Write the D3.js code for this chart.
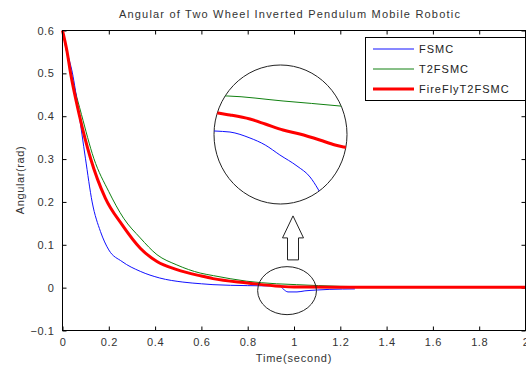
<!DOCTYPE html>
<html><head><meta charset="utf-8">
<script src="https://cdn.jsdelivr.net/npm/d3@7/dist/d3.min.js"></script>
<style>
body{margin:0;background:#fff;}
text{font-family:"Liberation Sans",Arial,sans-serif;}
</style></head><body>
<svg id="c" width="526" height="366"></svg>
<script>
const title = "Angular of Two Wheel Inverted Pendulum Mobile Robotic";
const xLabel = "Time(second)";
const yLabel = "Angular(rad)";
const seriesNames = ["FSMC", "T2FSMC", "FireFlyT2FSMC"];
const seriesColors = ["#1010ff", "#108010", "#ff0000"];
const seriesWidths = [1, 1, 3];
const xTicks = [0, 0.2, 0.4, 0.6, 0.8, 1, 1.2, 1.4, 1.6, 1.8, 2];
const yTicks = [-0.1, 0, 0.1, 0.2, 0.3, 0.4, 0.5, 0.6];

// FSMC
const tFSMC = [0, 0.02, 0.042, 0.07, 0.099, 0.128, 0.164, 0.2, 0.257, 0.336, 0.42, 0.52, 0.6, 0.65, 0.8, 0.9, 0.94, 0.953, 0.974, 1.013, 1.047, 1.1, 1.155, 1.263];
const vFSMC = [0.6, 0.55, 0.503, 0.41, 0.302, 0.2, 0.131, 0.088, 0.061, 0.038, 0.0225, 0.013, 0.009, 0.007, 0.0047, 0.004, 0.003, -0.003, -0.01, -0.01, -0.0075, -0.0055, -0.004, -0.003];
// T2FSMC
const tT2 = [0, 0.012, 0.024, 0.05, 0.082, 0.135, 0.2, 0.264, 0.336, 0.408, 0.494, 0.595, 0.652, 0.796, 0.925, 1.01, 1.2, 1.5, 2.0];
const vT2 = [0.6, 0.565, 0.535, 0.47, 0.404, 0.302, 0.224, 0.162, 0.116, 0.077, 0.053, 0.034, 0.028, 0.015, 0.009, 0.007, 0.003, 0.001, 0.0005];
// FireFlyT2FSMC
const tFF = [0, 0.02, 0.034, 0.073, 0.121, 0.185, 0.257, 0.336, 0.408, 0.494, 0.6, 0.65, 0.8, 0.94, 1.0, 1.2, 2.0];
const vFF = [0.6, 0.55, 0.503, 0.402, 0.302, 0.209, 0.147, 0.092, 0.061, 0.042, 0.027, 0.021, 0.011, 0.003, 0.0015, 0.001, 0.001];

// magnified inset (zoom of t≈0.9–1.1)
const insetTFSMC = [0.895, 0.9015, 0.924, 0.954, 0.977, 0.999, 1.0248, 1.0444, 1.0564, 1.06];
const insetFSMC = [-0.0005, -0.00055, -0.00068, -0.00145, -0.00236, -0.00365, -0.00508, -0.0065, -0.00806, -0.0086];
const insetTT2 = [0.915, 0.9196, 1.0038, 1.0895, 1.1];
const insetT2 = [0.0040, 0.00399, 0.00334, 0.00269, 0.0026];
const insetTFF = [0.9, 0.906, 0.924, 0.954, 0.977, 1.0038, 1.029, 1.059, 1.082, 1.0955, 1.1];
const insetFF = [0.0019, 0.00178, 0.00153, 0.0010, 0.00036, -0.00042, -0.00094, -0.00171, -0.00236, -0.00262, -0.0027];

const svg = d3.select("#c");
const x = d3.scaleLinear().domain([0, 2]).range([62.5, 525.5]);
const y = d3.scaleLinear().domain([-0.1, 0.6]).range([330.5, 30.5]);
const fmt = d => d3.format("")(+d.toFixed(1));

// title
svg.append("text").attr("x", 290).attr("y", 18).attr("text-anchor", "middle")
  .attr("font-size", 11).attr("fill", "#333").attr("letter-spacing", "1.2px").text(title);

// axes
const tickStyle = g => { g.select(".domain").remove(); g.selectAll("line").attr("stroke", "#000"); };
svg.append("g").attr("transform", `translate(0,${y.range()[0]})`)
  .call(d3.axisBottom(x).tickValues(xTicks).tickSizeInner(-4).tickSizeOuter(0).tickPadding(8).tickFormat(fmt))
  .call(tickStyle)
  .call(g => g.selectAll("text").attr("font-size", 11).attr("fill", "#333").attr("font-family", "Liberation Sans, Arial, sans-serif").attr("letter-spacing", "0.6px"));
svg.append("g").attr("transform", `translate(0,${y.range()[1]})`)
  .call(d3.axisTop(x).tickValues(xTicks).tickSizeInner(-4).tickSizeOuter(0).tickFormat(""))
  .call(tickStyle);
svg.append("g").attr("transform", `translate(${x.range()[0]},0)`)
  .call(d3.axisLeft(y).tickValues(yTicks).tickSizeInner(-4).tickSizeOuter(0).tickPadding(8).tickFormat(fmt))
  .call(tickStyle)
  .call(g => g.selectAll("text").attr("font-size", 11).attr("fill", "#333").attr("font-family", "Liberation Sans, Arial, sans-serif").attr("letter-spacing", "0.6px"));
svg.append("g").attr("transform", `translate(${x.range()[1]},0)`)
  .call(d3.axisRight(y).tickValues(yTicks).tickSizeInner(-4).tickSizeOuter(0).tickFormat(""))
  .call(tickStyle);

// series
const series = [
  {t: tFSMC, v: vFSMC},
  {t: tT2, v: vT2},
  {t: tFF, v: vFF}
];
const line = d3.line().x(d => x(d[0])).y(d => y(d[1])).curve(d3.curveMonotoneX);
const drawOrder = [1, 0, 2];
drawOrder.forEach(i => {
  const s = series[i];
  svg.append("path").datum(s.t.map((t, j) => [t, s.v[j]]))
    .attr("d", line).attr("fill", "none")
    .attr("stroke", seriesColors[i]).attr("stroke-width", seriesWidths[i])
    .attr("stroke-linejoin", "round");
});

// box
svg.append("rect").attr("x", x.range()[0]).attr("y", y.range()[1])
  .attr("width", x.range()[1] - x.range()[0]).attr("height", y.range()[0] - y.range()[1])
  .attr("fill", "none").attr("stroke", "#000").attr("stroke-width", 1);

// small ellipse around zoomed region
const smallC = {t: 0.97, v: -0.007, rt: 0.127, rv: 0.056};
svg.append("ellipse").attr("cx", x(smallC.t)).attr("cy", y(smallC.v))
  .attr("rx", x(smallC.rt) - x(0)).attr("ry", y(0) - y(smallC.rv))
  .attr("fill", "none").attr("stroke", "#222").attr("stroke-width", 1);

// arrow
const tip = {x: x(0.9957), y: y(0.1674)};
const ap = d3.path();
ap.moveTo(tip.x, tip.y);
ap.lineTo(tip.x + 10.5, tip.y + 22);
ap.lineTo(tip.x + 5.5, tip.y + 22);
ap.lineTo(tip.x + 5.5, tip.y + 44);
ap.lineTo(tip.x - 5.5, tip.y + 44);
ap.lineTo(tip.x - 5.5, tip.y + 22);
ap.lineTo(tip.x - 10.5, tip.y + 22);
ap.closePath();
svg.append("path").attr("d", ap.toString()).attr("fill", "#fff").attr("stroke", "#222").attr("stroke-width", 1);

// big inset ellipse
const bigC = {cx: 280.5, cy: 134.5, rx: 66.5, ry: 69.5};
svg.append("defs").append("clipPath").attr("id", "insetClip")
  .append("ellipse").attr("cx", bigC.cx).attr("cy", bigC.cy).attr("rx", bigC.rx).attr("ry", bigC.ry);
svg.append("ellipse").attr("cx", bigC.cx).attr("cy", bigC.cy).attr("rx", bigC.rx).attr("ry", bigC.ry)
  .attr("fill", "#fff").attr("stroke", "#222").attr("stroke-width", 1);
const xi = d3.scaleLinear().domain([0.9, 1.1]).range([214, 347]);
const yi = d3.scaleLinear().domain([-0.01, 0.008]).range([204, 65]);
const iline = d3.line().x(d => xi(d[0])).y(d => yi(d[1])).curve(d3.curveMonotoneX);
const insetSeries = [
  {t: insetTFSMC, v: insetFSMC},
  {t: insetTT2, v: insetT2},
  {t: insetTFF, v: insetFF}
];
const ig = svg.append("g").attr("clip-path", "url(#insetClip)");
insetSeries.forEach((s, i) => {
  ig.append("path").datum(s.t.map((t, j) => [t, s.v[j]]))
    .attr("d", iline).attr("fill", "none")
    .attr("stroke", seriesColors[i]).attr("stroke-width", seriesWidths[i]);
});

// legend
const lg = svg.append("g");
lg.append("rect").attr("x", 365.5).attr("y", 37.5).attr("width", 160).attr("height", 63)
  .attr("fill", "#fff").attr("stroke", "#000");
seriesNames.forEach((n, i) => {
  const ly = 49 + i * 20;
  lg.append("line").attr("x1", 373).attr("x2", 414).attr("y1", ly).attr("y2", ly)
    .attr("stroke", seriesColors[i]).attr("stroke-width", seriesWidths[i]);
  lg.append("text").attr("x", 419).attr("y", ly + 4).attr("font-size", 11).attr("fill", "#222")
    .attr("letter-spacing", "1px").text(n);
});

// axis labels
svg.append("text").attr("x", 294).attr("y", 362).attr("text-anchor", "middle")
  .attr("font-size", 11).attr("fill", "#333").attr("letter-spacing", "0.8px").text(xLabel);
svg.append("text").attr("transform", "translate(24,180) rotate(-90)").attr("text-anchor", "middle")
  .attr("font-size", 11).attr("fill", "#333").attr("letter-spacing", "0.6px").text(yLabel);
</script>
</body></html>
